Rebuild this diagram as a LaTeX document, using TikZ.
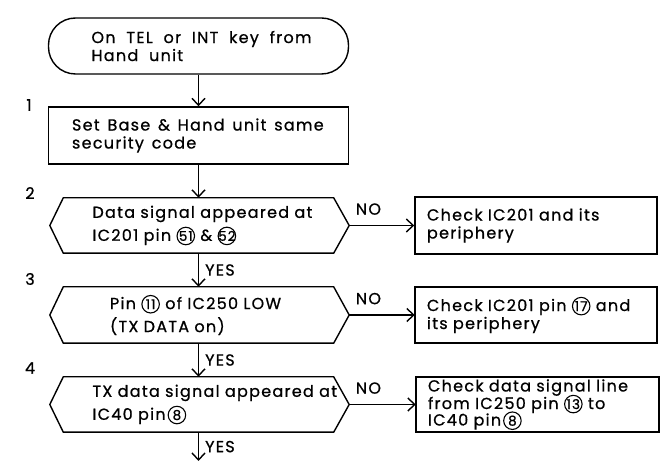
\documentclass[tikz,border=0pt]{standalone}
\usepackage{fontspec}
\setmainfont{Poppins}[LetterSpace=8,WordSpace=3,FakeBold=0.8]
\usetikzlibrary{arrows.meta}
\newcommand\tsp{\ \hspace{5.5pt}}
\newcommand\bsp{\ \hspace{2.5pt}}
\newcommand\cnum[1]{\tikz[baseline=(cn.base)]\node[draw,circle,minimum size=17.5pt,text width={},align=center,inner sep=0pt,line width=1.1pt,font=\fontsize{13.5}{13.5}\selectfont](cn){\makebox[0pt]{#1}};}
\begin{document}
\begin{tikzpicture}[x=1pt,y=-1pt,line width=1.4pt,
  font=\fontsize{16}{18}\selectfont,
  arr/.style={-{Straight Barb[length=7pt,width=13pt]}},
  term/.style={draw,rounded corners=27pt,align=left,inner sep=0pt},
  pbox/.style={draw,align=left,inner sep=0pt},
  dec/.style={align=left,inner sep=0pt,font=\fontsize{16}{23}\selectfont},
  yes/.style={anchor=west,inner sep=0pt,xshift=6pt},
  no/.style={pos=0,anchor=south west,inner sep=0pt,xshift=6pt,yshift=10pt},
  num/.style={inner sep=0pt}]
\useasboundingbox (0,0) rectangle (662,462);
\node[term,minimum width=300,minimum height=56,text width=214] (start) at (198.5,46)
  {\mbox{On\tsp TEL\tsp or\tsp INT\tsp key\tsp from}\\\mbox{Hand\tsp unit}};
\node[pbox,minimum width=300,minimum height=57,text width=253] (b1) at (198.5,135.5)
  {\mbox{Set\bsp Base\bsp \&\bsp Hand\bsp unit\bsp same}\\\mbox{security\bsp code}};
\node[dec,minimum width=270,minimum height=55,text width=212] (d2) at (198.5,225.5)
  {\mbox{Data signal appeared at}\\\mbox{IC201 pin \cnum{51} \& \cnum{52}}};
\node[dec,minimum width=270,minimum height=56,text width=177] (d3) at (198.5,315)
  {\mbox{Pin \cnum{11} of IC250 LOW}\\\mbox{(TX DATA on)}};
\node[dec,minimum width=270,minimum height=55,text width=212] (d4) at (198.5,404.5)
  {\mbox{TX data signal appeared at}\\\mbox{IC40 pin\hspace{2pt}\cnum{8}}};
\foreach \n in {d2,d3,d4}{
  \draw[line join=miter] ([xshift=-13.5pt]\n.west) -- (\n.north west) -- (\n.north east)
    -- ([xshift=15.5pt]\n.east) -- (\n.south east) -- (\n.south west) -- cycle;
  \coordinate (\n r) at ([xshift=15.5pt]\n.east);
}
\node[pbox,minimum width=242,minimum height=57,text width=218] (cA) at (536,225.5)
  {\mbox{Check IC201 and its}\\\mbox{periphery}};
\node[pbox,minimum width=242,minimum height=56,text width=218] (cB) at (536,315)
  {\mbox{Check IC201 pin \cnum{17} and}\\\mbox{its periphery}};
\node[pbox,minimum width=243,minimum height=55,text width=219,font=\fontsize{16}{16.5}\selectfont] (cC) at (537.5,404.5)
  {\mbox{Check data signal line}\\\mbox{from IC250 pin \smash{\cnum{13}} to}\\\mbox{IC40 pin\hspace{2pt}\smash{\cnum{8}}}};
\coordinate (endc) at (198.5,461);
\node[num] (n1) at (29,105) {1};
\node[num] (n2) at (30,193) {2};
\node[num] (n3) at (30,279) {3};
\node[num] (n4) at (30,368) {4};
\draw[arr] (start.south) -- (b1.north);
\draw[arr] (b1.south) -- (d2.north);
\draw[arr] (d2.south) -- node[yes]{YES} (d3.north);
\draw[arr] (d3.south) -- node[yes]{YES} (d4.north);
\draw[arr] (d4.south) -- node[yes]{YES} (endc);
\draw[arr] (d2r) -- node[no]{NO} (cA.west);
\draw[arr] (d3r) -- node[no]{NO} (cB.west);
\draw[arr] (d4r) -- node[no]{NO} (cC.west);
\end{tikzpicture}
\end{document}
